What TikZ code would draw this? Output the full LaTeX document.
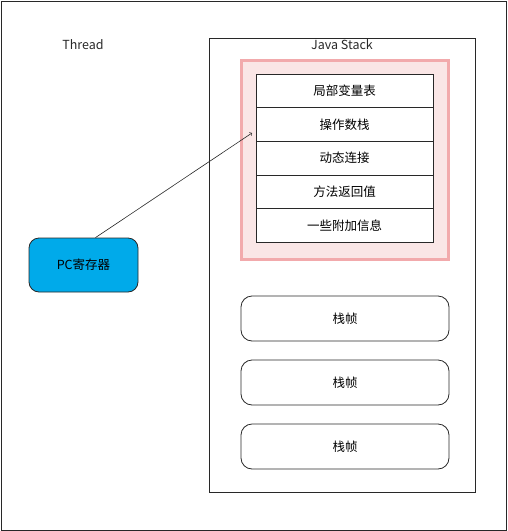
\documentclass[tikz,border=0pt]{standalone}
\usepackage{fontspec}
\setmainfont{Noto Sans CJK SC}
\usepackage{xcolor}
\usetikzlibrary{arrows}
\usetikzlibrary{shapes, positioning}

\definecolor{pcblue}{RGB}{0,170,234}
\definecolor{framepink}{RGB}{242,170,172}
\definecolor{fillpink}{RGB}{250,230,230}
\definecolor{linegray}{RGB}{40,40,40}

\begin{document}
\begin{tikzpicture}[x=1pt,y=-1pt,line width=0.8pt,draw=linegray,
  font=\fontsize{12.5}{14}\selectfont,node distance=33.6pt]
\tikzset{row/.style={draw=linegray, fill=white, minimum width=177pt, minimum height=33.6pt, inner sep=0pt},
  frame/.style={draw=linegray, rounded corners=11pt, minimum width=208pt, minimum height=45pt, inner sep=0pt},
  label/.style={inner sep=0pt, text=linegray}}
\useasboundingbox (0,0) rectangle (507,531);
\draw[linegray] (1,1) rectangle (506,530);

\node[label] (thread) at (83,45) {Thread};
\draw[linegray] (209,38) rectangle (475,492);
\node[label] (title) at (342,45) {Java Stack};

\node[draw=framepink, line width=2.2pt, fill=fillpink, minimum width=207pt, minimum height=199pt] (current) at (345,160) {};
\node[row] (r1) at (344.5,91) {局部变量表};
\node[row] (r2) [below of=r1] {操作数栈};
\node[row] (r3) [below of=r2] {动态连接};
\node[row] (r4) [below of=r3] {方法返回值};
\node[row] (r5) [below of=r4] {一些附加信息};

\node[frame] (f1) at (345,318.5) {栈帧};
\node[frame] (f2) at (345,382.5) {栈帧};
\node[frame] (f3) at (345,446.5) {栈帧};

\node[draw=linegray, fill=pcblue, rounded corners=10pt, minimum width=109pt, minimum height=54pt] (pc) at (83.5,265) {PC寄存器};
\coordinate (tip) at (252,133);

\path (pc.north) ++(12pt,0) coordinate (start);
\draw[->, line width=0.6pt] (start) -- (tip);
\end{tikzpicture}
\end{document}
